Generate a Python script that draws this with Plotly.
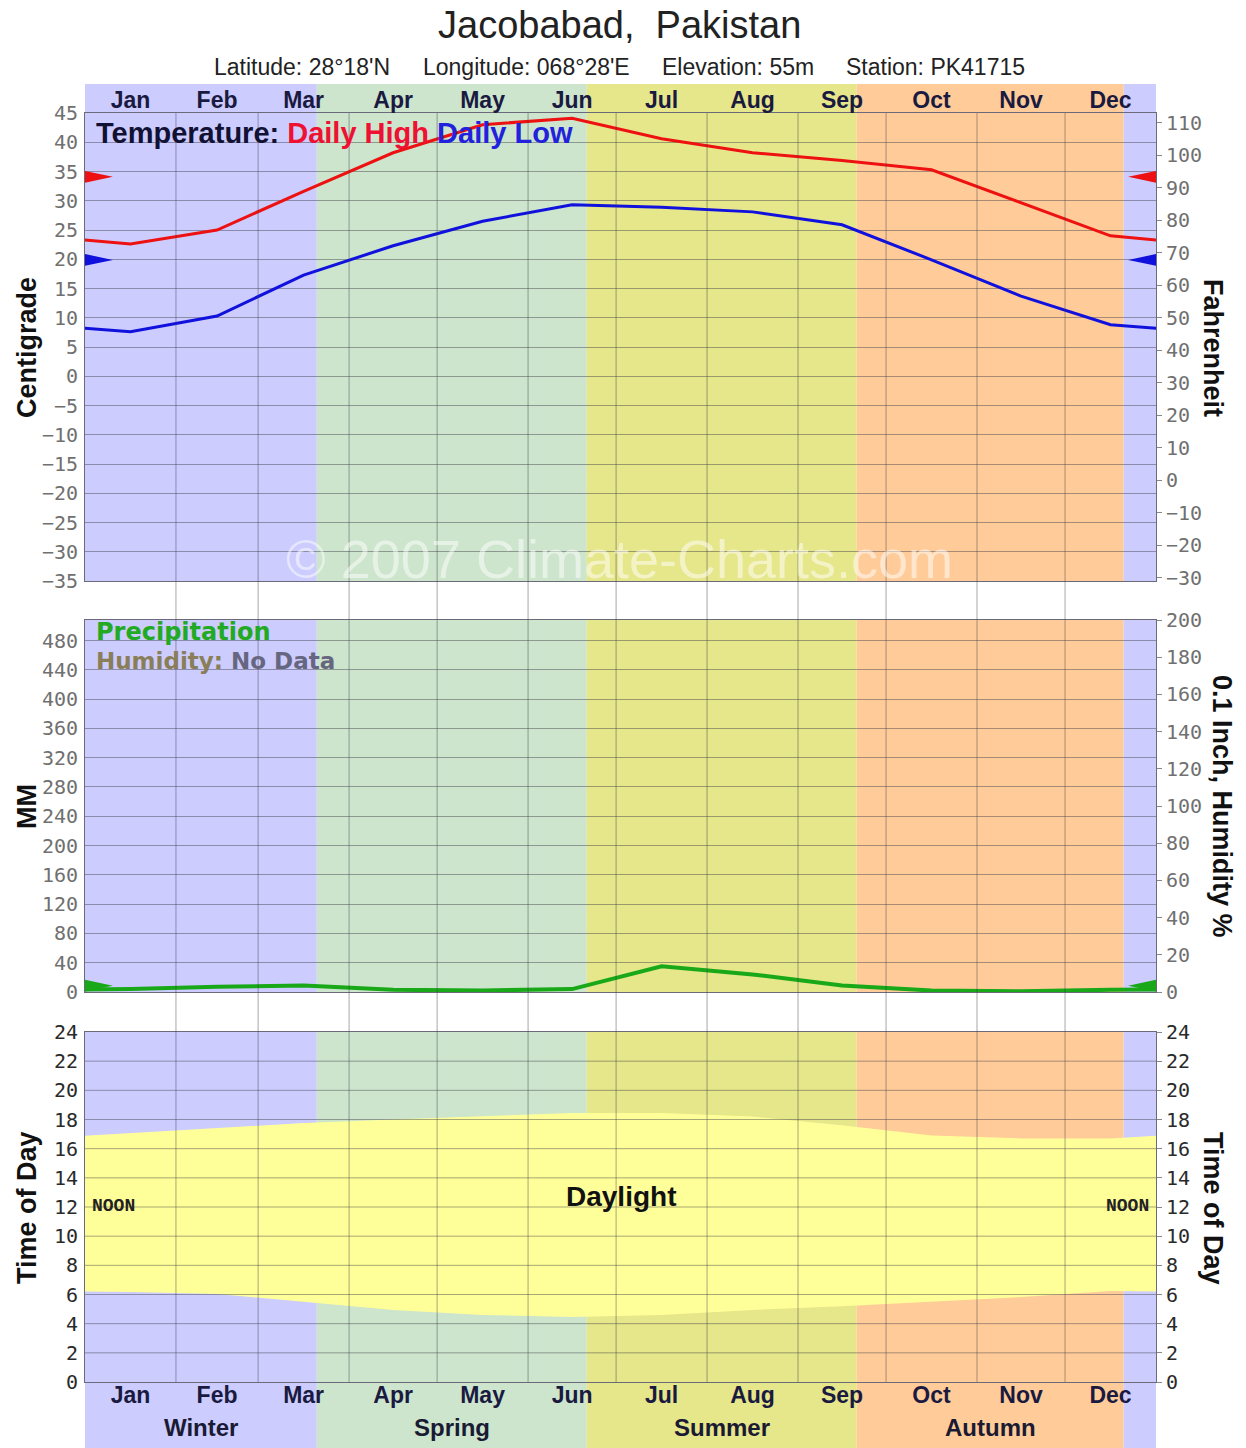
import numpy as np
import plotly.graph_objects as go

# ---------------- data ----------------
months = ['Jan', 'Feb', 'Mar', 'Apr', 'May', 'Jun', 'Jul', 'Aug', 'Sep', 'Oct', 'Nov', 'Dec']
month_days = [31, 28, 31, 30, 31, 30, 31, 31, 30, 31, 30, 31]
high_c = [22.6, 25.0, 31.6, 38.2, 43.0, 44.1, 40.6, 38.2, 36.9, 35.3, 29.6, 24.0]
low_c = [7.6, 10.3, 17.3, 22.3, 26.5, 29.3, 28.9, 28.1, 25.9, 19.9, 13.7, 8.8]
precip_mm = [4, 7, 9, 3, 2, 4, 35, 24, 9, 2, 1, 3]
sunrise_h = [6.17, 6.04, 5.49, 4.94, 4.60, 4.46, 4.60, 4.94, 5.20, 5.49, 5.83, 6.24]
sunset_h = [17.08, 17.40, 17.76, 18.00, 18.20, 18.45, 18.45, 18.20, 17.60, 16.90, 16.70, 16.70]

seasons = ['Winter', 'Spring', 'Summer', 'Autumn']
season_start_days = [-11, 79, 171, 263, 354]   # day of year each season begins (winter from Dec 21)
season_colors = ['#CCCCFF', '#CCE5CC', '#E6E68A', '#FFCC99']

c_ticks = list(range(-35, 46, 5))
f_ticks = list(range(-30, 111, 10))
mm_ticks = list(range(0, 481, 40))
inch_ticks = list(range(0, 201, 20))
hour_ticks = list(range(0, 25, 2))

title = 'Jacobabad,\u00a0 Pakistan'
subtitle_parts = ["Latitude: 28°18'N", "Longitude: 068°28'E", "Elevation: 55m", "Station: PK41715"]

# ---------------- geometry ----------------
W, H = 1246, 1448
def px(x):
    return x / W
def py(y):
    return 1 - y / H

year_len = sum(month_days)
x_range = [0, year_len]
xd = [px(85), px(1156)]
d_top = [py(581), py(113)]
d_mid = [py(992), py(620)]
d_bot = [py(1382), py(1032)]

month_start = list(np.cumsum([0] + month_days[:-1]))
month_mid = [s + d / 2 for s, d in zip(month_start, month_days)]
x_ext = [month_mid[-1] - year_len] + month_mid + [month_mid[0] + year_len]
def wrap(v):
    return [v[-1]] + list(v) + [v[0]]

c2f = lambda c: c * 9 / 5 + 32
c_range = [-35, 45]
f_range = [c2f(c_range[0]), c2f(c_range[1])]
mm_range = [0, 508]
inch_range = [0, mm_range[1] / 2.54]

fig = go.Figure()

fig.add_trace(go.Scatter(x=x_ext, y=wrap(high_c), mode='lines', line=dict(color='#EE1111', width=3),
                         xaxis='x', yaxis='y', hoverinfo='skip'))
fig.add_trace(go.Scatter(x=x_ext, y=wrap(low_c), mode='lines', line=dict(color='#1111DD', width=3),
                         xaxis='x', yaxis='y', hoverinfo='skip'))
fig.add_trace(go.Scatter(x=x_ext, y=wrap(precip_mm), mode='lines', line=dict(color='#18A818', width=4),
                         xaxis='x2', yaxis='y2', hoverinfo='skip'))
fig.add_trace(go.Scatter(x=x_ext, y=wrap(sunrise_h), mode='lines', line=dict(width=0, color='#FFFF99'),
                         xaxis='x3', yaxis='y3', hoverinfo='skip'))
fig.add_trace(go.Scatter(x=x_ext, y=wrap(sunset_h), mode='lines', line=dict(width=0, color='#FFFF99'),
                         fill='tonexty', fillcolor='#FFFF99', xaxis='x3', yaxis='y3', hoverinfo='skip'))
# empty traces so the right-hand axes are rendered
for xa, ya in [('x', 'y4'), ('x2', 'y5'), ('x3', 'y6')]:
    fig.add_trace(go.Scatter(x=[], y=[], xaxis=xa, yaxis=ya, hoverinfo='skip'))

shapes = []
# season backgrounds (panels + top/bottom strips)
strip_refs = [('y domain', 0, 1), ('y2 domain', 0, 1), ('y3 domain', 0, 1),
              ('paper', py(113), py(84)), ('paper', 0, py(1382))]
bounds = season_start_days + [year_len + 90]
for i in range(len(bounds) - 1):
    col = season_colors[i % 4]
    x0 = max(bounds[i], x_range[0])
    x1 = min(bounds[i + 1], x_range[1])
    if x1 <= x0:
        continue
    for yref, y0, y1 in strip_refs:
        shapes.append(dict(type='rect', xref='x', yref=yref, x0=x0, x1=x1, y0=y0, y1=y1,
                           fillcolor=col, line=dict(width=0), layer='below'))

grid_col = 'rgba(60,60,70,0.45)'
# vertical grid lines at month starts, through the whole chart
for g in month_start[1:]:
    shapes.append(dict(type='line', xref='x', yref='paper', x0=g, x1=g, y0=py(1382), y1=py(113),
                       line=dict(color=grid_col, width=1), layer='above'))
# horizontal hour lines (above the daylight fill)
for h in hour_ticks[1:-1]:
    shapes.append(dict(type='line', xref='x3 domain', yref='y3', x0=0, x1=1, y0=h, y1=h,
                       line=dict(color=grid_col, width=1), layer='above'))

# annual mean markers (wedges at both edges)
def wedges(val, half_h, color, yref):
    w = 9.5
    l, r = x_range
    xr = 'x' if yref == 'y' else 'x2'
    return [
        dict(type='path', xref=xr, yref=yref,
             path=f'M {l},{val - half_h} L {l + w},{val} L {l},{val + half_h} Z',
             fillcolor=color, line=dict(width=0), layer='above'),
        dict(type='path', xref=xr, yref=yref,
             path=f'M {r},{val - half_h} L {r - w},{val} L {r},{val + half_h} Z',
             fillcolor=color, line=dict(width=0), layer='above'),
    ]
shapes += wedges(float(np.mean(high_c)), 1.0, '#EE1111', 'y')
shapes += wedges(float(np.mean(low_c)), 1.0, '#1111DD', 'y')
shapes += wedges(float(np.mean(precip_mm)), 8.0, '#18A818', 'y2')

# ---------------- annotations ----------------
ann = []
def note(text, x, y, xref='paper', yref='paper', xanchor='center', yanchor='middle', font=None, angle=0):
    ann.append(dict(text=text, x=x, y=y, xref=xref, yref=yref, xanchor=xanchor, yanchor=yanchor,
                    showarrow=False, font=font, textangle=angle))

note(title, px(619), py(25), font=dict(family='Liberation Sans', size=38, color='#222222'))
for t, cx in zip(subtitle_parts, [302, 526, 738, 935]):
    note(t, px(cx), py(67), font=dict(family='Liberation Sans', size=23, color='#222222'))

note('<b>Temperature: <span style="color:#EE1133">Daily High</span> '
     '<span style="color:#2222DD">Daily Low</span></b>', px(94), py(133), xanchor='left',
     font=dict(family='Liberation Sans', size=29, color='#111133'))
note('<b>Precipitation</b>', px(94), py(632), xanchor='left',
     font=dict(family='DejaVu Sans', size=24, color='#22AA22'))
note('<b>Humidity: <span style="color:#666680">No Data</span></b>', px(94), py(661), xanchor='left',
     font=dict(family='DejaVu Sans', size=23, color='#8A7E58'))
note('© 2007 Climate-Charts.com', px(619), py(559),
     font=dict(family='Liberation Sans', size=54, color='rgba(255,255,255,0.5)'))

note('<b>Daylight</b>', (x_range[0] + x_range[1]) / 2, 12.7, xref='x3', yref='y3',
     font=dict(family='Liberation Sans', size=28, color='#111111'))
noon_font = dict(family='Courier New, Liberation Mono, monospace', size=18, color='#222222')
note('<b>NOON</b>', px(90), 12.1, yref='y3', xanchor='left', font=noon_font)
note('<b>NOON</b>', px(1151), 12.1, yref='y3', xanchor='right', font=noon_font)

# season names along the bottom strip
for i, s in enumerate(seasons):
    x0 = max(season_start_days[i], x_range[0])
    x1 = min(season_start_days[i + 1], x_range[1])
    note(f'<b>{s}</b>', (x0 + x1) / 2, py(1427), xref='x3',
         font=dict(family='Liberation Sans', size=24, color='#1a1a33'))

# axis titles
at_font = dict(family='Liberation Sans', size=27, color='#111111')
for t, x, y, ang in [('Centigrade', 27, 348, -90), ('Fahrenheit', 1213, 348, 90),
                     ('MM', 27, 806, -90), ('0.1 Inch, Humidity %', 1222, 806, 90),
                     ('Time of Day', 27, 1208, -90), ('Time of Day', 1213, 1208, 90)]:
    note(f'<b>{t}</b>', px(x), py(y), font=at_font, angle=ang)

# ---------------- axes ----------------
frame = dict(showline=True, mirror=True, linecolor='#6a6a7a', linewidth=1, zeroline=False, automargin=False,
             fixedrange=True)
month_font = dict(family='Liberation Sans', size=23, color='#1a1a40', weight='bold')
tick_font = dict(family='DejaVu Sans Mono', size=20, color='#707070')
tick_font_dark = dict(family='DejaVu Sans Mono', size=20, color='#2a2a2a')

layout = dict(
    width=W, height=H, margin=dict(l=0, r=0, t=0, b=0), paper_bgcolor='white', plot_bgcolor='rgba(0,0,0,0)',
    showlegend=False, shapes=shapes, annotations=ann,
    xaxis=dict(domain=xd, range=x_range, anchor='y', side='top', tickvals=month_mid, ticktext=months, ticks='',
               ticklabelstandoff=-5, tickfont=month_font, showgrid=False, **frame),
    xaxis2=dict(domain=xd, range=x_range, anchor='y2', showticklabels=False, ticks='', showgrid=False, **frame),
    xaxis3=dict(domain=xd, range=x_range, anchor='y3', side='bottom', tickvals=month_mid, ticktext=months,
                ticks='', ticklabelstandoff=-8, tickfont=month_font, showgrid=False, **frame),
    yaxis=dict(domain=d_top, range=c_range, anchor='x', tickvals=c_ticks, ticks='', ticklabelstandoff=2,
               tickfont=tick_font, showgrid=True, gridcolor=grid_col, **frame),
    yaxis4=dict(range=f_range, overlaying='y', side='right', anchor='x', tickvals=f_ticks, ticks='outside',
                ticklen=5, tickcolor='#888888', tickfont=tick_font, showgrid=False, **frame),
    yaxis2=dict(domain=d_mid, range=mm_range, anchor='x2', tickvals=mm_ticks, ticks='', ticklabelstandoff=2,
                tickfont=tick_font, showgrid=True, gridcolor=grid_col, **frame),
    yaxis5=dict(range=inch_range, overlaying='y2', side='right', anchor='x2', tickvals=inch_ticks,
                ticks='outside', ticklen=5, tickcolor='#888888', tickfont=tick_font, showgrid=False, **frame),
    yaxis3=dict(domain=d_bot, range=[0, 24], anchor='x3', tickvals=hour_ticks, ticks='', ticklabelstandoff=2,
                tickfont=tick_font_dark, showgrid=False, **frame),
    yaxis6=dict(range=[0, 24], overlaying='y3', side='right', anchor='x3', tickvals=hour_ticks,
                ticks='outside', ticklen=5, tickcolor='#888888', tickfont=tick_font_dark, showgrid=False, **frame),
)
fig.update_layout(**layout)
fig.write_html('out.html', config={'displayModeBar': False},
               post_script="document.body.style.margin='0';document.body.style.overflow='hidden';")
